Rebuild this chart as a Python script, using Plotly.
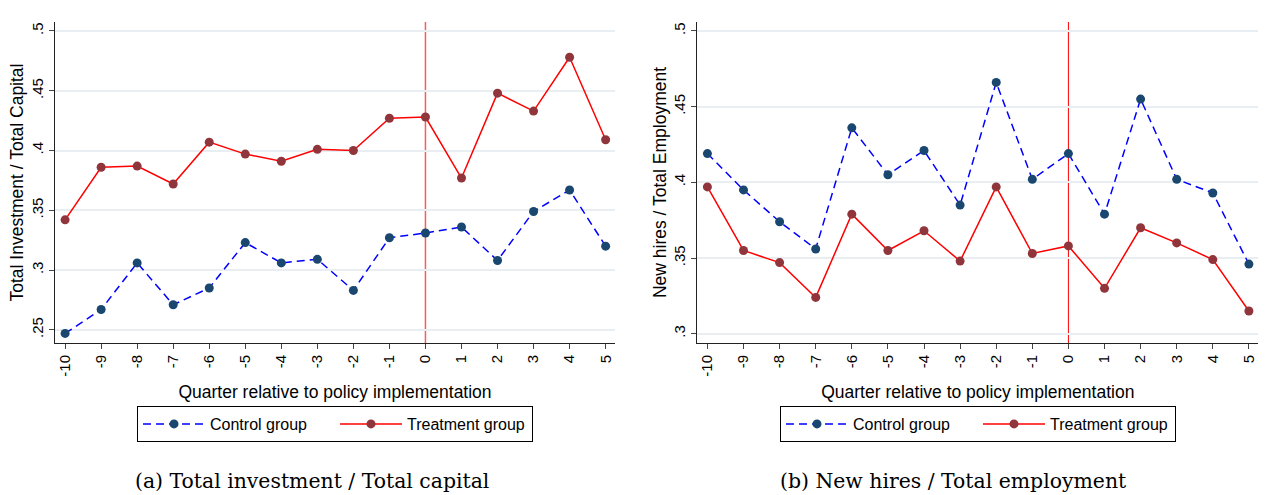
import plotly.graph_objects as go

quarters = list(range(-10, 6))
x_tick_labels = [str(q) for q in quarters]

inv_control = [0.247, 0.267, 0.306, 0.271, 0.285, 0.323, 0.306, 0.309, 0.283, 0.327, 0.331, 0.336, 0.308, 0.349, 0.367, 0.320]
inv_treatment = [0.342, 0.386, 0.387, 0.372, 0.407, 0.397, 0.391, 0.401, 0.400, 0.427, 0.428, 0.377, 0.448, 0.433, 0.478, 0.409]

hire_control = [0.419, 0.395, 0.374, 0.356, 0.436, 0.405, 0.421, 0.385, 0.466, 0.402, 0.419, 0.379, 0.455, 0.402, 0.393, 0.346]
hire_treatment = [0.397, 0.355, 0.347, 0.324, 0.379, 0.355, 0.368, 0.348, 0.397, 0.353, 0.358, 0.330, 0.370, 0.360, 0.349, 0.315]

y_tick_vals_a = [0.25, 0.30, 0.35, 0.40, 0.45, 0.50]
y_tick_text_a = [".25", ".3", ".35", ".4", ".45", ".5"]
y_tick_vals_b = [0.30, 0.35, 0.40, 0.45, 0.50]
y_tick_text_b = [".3", ".35", ".4", ".45", ".5"]

policy_quarter = 0

NAVY = "#1a476f"
MAROON = "#90353b"
BLUE = "#0000ff"
RED = "#ff0000"
GRID = "#e8eef1"
FONT = "Liberation Sans, Arial, sans-serif"
SERIF = "DejaVu Serif, Liberation Serif, serif"

W, H = 1274, 495

fig = go.Figure()

def add_pair(xa, ya, ctrl, treat, legend):
    fig.add_trace(go.Scatter(
        x=quarters, y=ctrl, xaxis=xa, yaxis=ya, mode="lines+markers",
        name="Control group", legend=legend,
        line=dict(color=BLUE, width=1.5, dash="8px,5px"),
        marker=dict(color=NAVY, size=9),
    ))
    fig.add_trace(go.Scatter(
        x=quarters, y=treat, xaxis=xa, yaxis=ya, mode="lines+markers",
        name="Treatment group", legend=legend,
        line=dict(color=RED, width=1.5),
        marker=dict(color=MAROON, size=9),
    ))

add_pair("x", "y", inv_control, inv_treatment, "legend")
add_pair("x2", "y2", hire_control, hire_treatment, "legend2")

xcommon = dict(
    range=[-10.28, 5.26], tickmode="array", tickvals=quarters, ticktext=x_tick_labels,
    tickangle=-90, ticks="outside", ticklen=5, tickcolor="#444", tickwidth=1,
    showline=True, linecolor="#222", linewidth=1, showgrid=False, zeroline=False,
    automargin=False,
    tickfont=dict(size=15, color="black", family=FONT),
    title=dict(text="Quarter relative to policy implementation",
               font=dict(size=17.5, color="black", family=FONT), standoff=10),
)
ycommon = dict(
    tickmode="array", tickangle=-90, ticks="outside", ticklen=5, tickcolor="#444", tickwidth=1,
    showline=True, linecolor="#222", linewidth=1, showgrid=True, gridcolor=GRID, gridwidth=1.5,
    zeroline=False, automargin=False, tickfont=dict(size=15, color="black", family=FONT),
)

legend_common = dict(orientation="h", yanchor="middle", y=(H - 424) / H, xanchor="center",
                     bordercolor="black", borderwidth=1, itemwidth=62, entrywidth=120,
                     font=dict(size=16, family=FONT, color="black"), bgcolor="white")

fig.update_layout(
    width=W, height=H,
    margin=dict(l=0, r=0, t=0, b=0, autoexpand=False),
    paper_bgcolor="white", plot_bgcolor="white",
    font=dict(family=FONT, color="black"),
    xaxis=dict(domain=[55 / W, 615 / W], anchor="y", **xcommon),
    xaxis2=dict(domain=[697.3 / W, 1258.3 / W], anchor="y2", **xcommon),
    yaxis=dict(domain=[(H - 343) / H, (H - 22) / H], anchor="x", range=[0.239, 0.5075],
               tickvals=y_tick_vals_a, ticktext=y_tick_text_a,
               title=dict(text="Total Investment / Total Capital",
                          font=dict(size=17.5, color="black", family=FONT), standoff=0),
               **ycommon),
    yaxis2=dict(domain=[(H - 343) / H, (H - 22) / H], anchor="x2", range=[0.2939, 0.5059],
                tickvals=y_tick_vals_b, ticktext=y_tick_text_b,
                title=dict(text="New hires / Total Employment",
                           font=dict(size=17.5, color="black", family=FONT), standoff=0),
                **ycommon),
    legend=dict(x=335 / W, **legend_common),
    legend2=dict(x=978 / W, **legend_common),
    shapes=[
        dict(type="line", xref="x", yref="y domain", x0=policy_quarter, x1=policy_quarter,
             y0=0, y1=1, line=dict(color="#ff5a5a", width=1.5), layer="below"),
        dict(type="line", xref="x2", yref="y2 domain", x0=policy_quarter, x1=policy_quarter,
             y0=0, y1=1, line=dict(color=RED, width=1), layer="below"),
    ],
    annotations=[
        dict(text="(a) Total investment / Total capital", xref="paper", yref="paper",
             x=311.5 / W, y=(H - 481) / H, xanchor="center", yanchor="middle",
             showarrow=False, font=dict(size=20.4, family=SERIF, color="black")),
        dict(text="(b) New hires / Total employment", xref="paper", yref="paper",
             x=953 / W, y=(H - 481) / H, xanchor="center", yanchor="middle",
             showarrow=False, font=dict(size=20.4, family=SERIF, color="black")),
    ],
)

fig.write_html("out.html", config={"displayModeBar": False},
               post_script="document.body.style.margin='0';")
